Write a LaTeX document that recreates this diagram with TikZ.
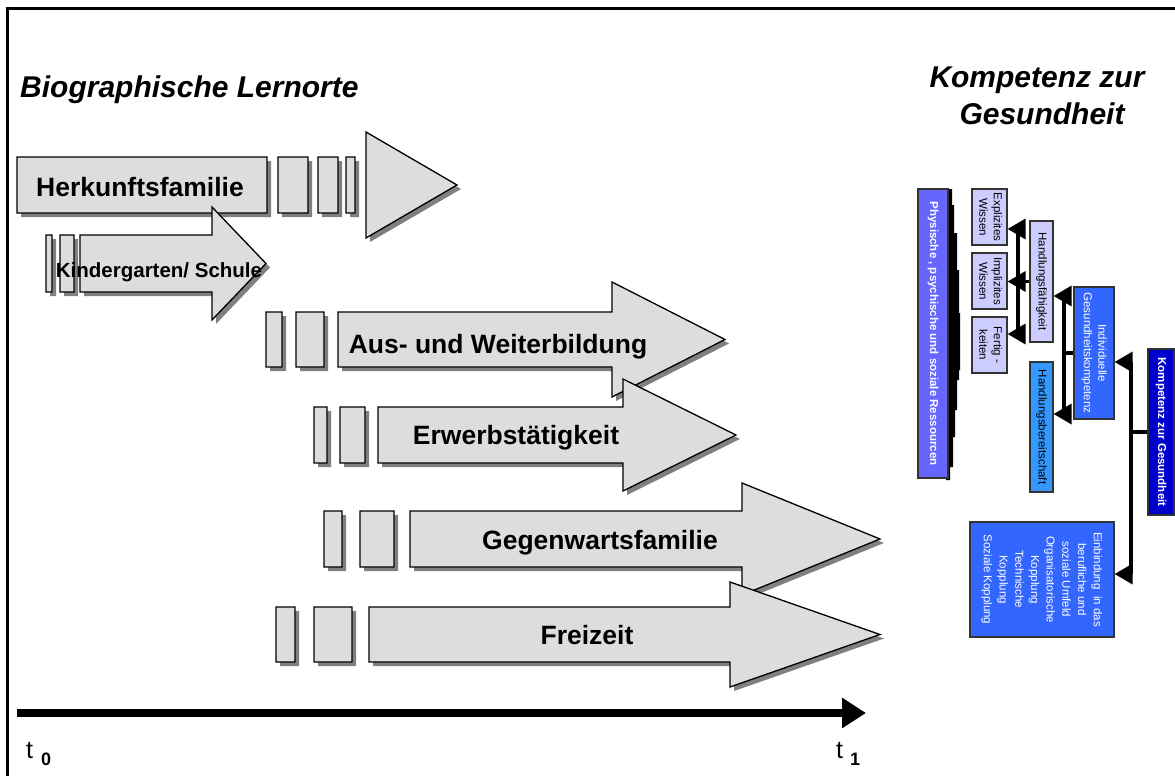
\documentclass[tikz,border=0pt]{standalone}
\usepackage{fontspec}
\setmainfont{Liberation Sans}
\usepackage{graphicx}
\usetikzlibrary{arrows.meta,shadows}
\definecolor{barfill}{RGB}{221,221,221}
\definecolor{shadowc}{RGB}{128,128,128}
\definecolor{lav}{RGB}{204,204,255}
\definecolor{purp}{RGB}{102,102,255}
\definecolor{midblue}{RGB}{51,102,255}
\definecolor{skyblue}{RGB}{51,153,255}
\definecolor{darkblue}{RGB}{0,0,204}
\definecolor{boxline}{RGB}{51,51,51}
\newcommand{\fsz}[2]{\fontsize{#1}{#2}\selectfont}
\newcommand{\rlab}[1]{\rotatebox{-90}{\begin{tabular}{@{}c@{}}#1\end{tabular}}}
\begin{document}
\begin{tikzpicture}[x=1pt,y=-1pt,
  bar/.style={fill=barfill, draw=black, line width=1.3pt, line join=miter,
    drop shadow={shadow xshift=4pt, shadow yshift=-4pt, fill=shadowc, opacity=1}},
  barlabel/.style={font=\fsz{26.5}{30}\bfseries, anchor=base, inner sep=0pt},
  title/.style={font=\fsz{30}{36}\bfseries\itshape, anchor=base, inner sep=0pt},
  rbox/.style={draw=boxline, line width=1.2pt, inner sep=0pt, font=\fsz{11.5}{14.5}},
  bus/.style={line width=3.5pt, draw=black},
  tip/.style={-{Triangle[length=18pt,width=20pt]}},
  tlabel/.style={anchor=base west, inner sep=0pt, font=\fsz{25}{30}}
]
\useasboundingbox (0,0) rectangle (1175,776);

% frame
\draw[line width=3pt] (7.5,776) -- (7.5,8.5) -- (1175,8.5);

% titles
\node[title, anchor=base west] (tbio) at (20,97) {Biographische Lernorte};
\node[title] (tkomp1) at (1037,87) {Kompetenz zur};
\node[title] (tkomp2) at (1042,124) {Gesundheit};

% bars
\path[bar] (17,157) rectangle (267,213) (278,157) rectangle (308,213)
  (318,157) rectangle (338,213) (346,157) rectangle (355,213)
  (366,132) -- (457,185) -- (366,238) -- cycle;
\path[bar] (46,235) rectangle (52,292) (60,235) rectangle (74,292)
  (80,235) -- (212,235) -- (212,207) -- (266,263.5) -- (212,320) -- (212,292) -- (80,292) -- cycle;
\path[bar] (266,312) rectangle (282,367) (296,312) rectangle (324,367)
  (338,312) -- (612,312) -- (612,282) -- (725,339.5) -- (612,397) -- (612,367) -- (338,367) -- cycle;
\path[bar] (314,407) rectangle (327,463) (340,407) rectangle (365,463)
  (378,407) -- (623,407) -- (623,379) -- (736,435) -- (623,491) -- (623,463) -- (378,463) -- cycle;
\path[bar] (324,511) rectangle (342,567) (360,511) rectangle (394,567)
  (410,511) -- (742,511) -- (742,483) -- (880,539) -- (742,595) -- (742,567) -- (410,567) -- cycle;
\path[bar] (276,607) rectangle (295,662) (314,607) rectangle (352,662)
  (369,607) -- (730,607) -- (730,582) -- (880,634.5) -- (730,687) -- (730,662) -- (369,662) -- cycle;

\node[barlabel] (lherk) at (140,196) {Herkunftsfamilie};
\node[barlabel, font=\fsz{20.5}{24}\bfseries] (lkind) at (159,277) {Kindergarten/ Schule};
\node[barlabel] (laus) at (498,353) {Aus- und Weiterbildung};
\node[barlabel] (lerw) at (516,444) {Erwerbstätigkeit};
\node[barlabel] (lgeg) at (600,549) {Gegenwartsfamilie};
\node[barlabel] (lfrei) at (587,644) {Freizeit};

% time axis
\coordinate (ax0) at (17,713);
\coordinate (ax1) at (866,713);
\draw[line width=8pt, -{Triangle[length=24pt,width=29pt]}] (ax0) -- (ax1);
\node[tlabel] (t0) at (26,758) {t\hspace{8pt}\raisebox{-7pt}{\fsz{18}{20}\bfseries 0}};
\node[tlabel] (t1) at (836,758) {t\hspace{7pt}\raisebox{-7pt}{\fsz{18}{20}\bfseries 1}};

% right diagram
\fill[black] (946,189) -- (952,189) -- (952,205) -- (954,205) -- (954,233) -- (957,233)
  -- (957,270) -- (959,270) -- (959,313) -- (960,313) -- (960,370) -- (959,370)
  -- (959,380) -- (957,380) -- (957,410) -- (955,410) -- (955,437) -- (953,437)
  -- (953,467) -- (950,467) -- (950,480) -- (946,480) -- cycle;
\node[rbox, fill=purp, text=white, font=\fsz{11.5}{14.5}\bfseries, minimum width=30pt, minimum height=289pt]
  (res) at (933,333.5) {\rlab{Physische , psychische und soziale Ressourcen}};
\node[rbox, fill=lav, minimum width=35pt, minimum height=56pt] (ex) at (989.5,217) {\rlab{Explizites\\Wissen}};
\node[rbox, fill=lav, minimum width=35pt, minimum height=56pt] (im) at (989.5,281) {\rlab{Implizites\\Wissen}};
\node[rbox, fill=lav, minimum width=35pt, minimum height=56pt] (fe) at (989.5,345) {\rlab{Fertig -\\keiten}};
\node[rbox, fill=lav, minimum width=23pt, minimum height=121pt] (hf) at (1041.5,281.5) {\rlab{Handlungsfähigkeit}};
\node[rbox, fill=midblue, text=white, minimum width=40pt, minimum height=132pt] (ig) at (1094,353)
  {\rlab{Individuelle\\Gesundheitskompetenz}};
\node[rbox, fill=skyblue, minimum width=23pt, minimum height=130pt] (hb) at (1041.5,427) {\rlab{Handlungsbereitschaft}};
\node[rbox, fill=darkblue, text=white, font=\fsz{11.5}{14.5}\bfseries, minimum width=26pt, minimum height=166pt]
  (kg) at (1161,432) {\rlab{Kompetenz zur Gesundheit}};
\node[rbox, fill=midblue, text=white, font=\fsz{11.5}{15.7}, minimum width=144pt, minimum height=115pt]
  (ein) at (1042,579.5) {\rlab{Einbindung\ \ in das\\berufliche und\\soziale Umfeld\\Organisatorische\\Kopplung\\Technische\\Kopplung\\Soziale Kopplung}};

% connectors
\coordinate (b1a) at (1018,229);
\coordinate (b1b) at (1018,281.5);
\coordinate (b1c) at (1018,334);
\draw[bus] (b1a) -- (b1c);
\draw[bus] (hf.west) -- (b1b);
\draw[bus, tip] (b1a) -- (b1a -| ex.east);
\draw[bus, tip] (b1b) -- (b1b -| im.east);
\draw[bus, tip] (b1c) -- (b1c -| fe.east);

\coordinate (b2a) at (1064,296);
\coordinate (b2b) at (1064,353);
\coordinate (b2c) at (1064,414);
\draw[bus] (b2a) -- (b2c);
\draw[bus] (ig.west) -- (b2b);
\draw[bus, tip] (b2a) -- (b2a -| hf.east);
\draw[bus, tip] (b2c) -- (b2c -| hb.east);

\coordinate (b3a) at (1131,362);
\coordinate (b3b) at (1131,432);
\coordinate (b3c) at (1131,574);
\draw[bus] (b3a) -- (b3c);
\draw[bus] (kg.west) -- (b3b);
\draw[bus, tip] (b3a) -- (b3a -| ig.east);
\draw[bus, tip] (b3c) -- (b3c -| ein.east);
\end{tikzpicture}
\end{document}
